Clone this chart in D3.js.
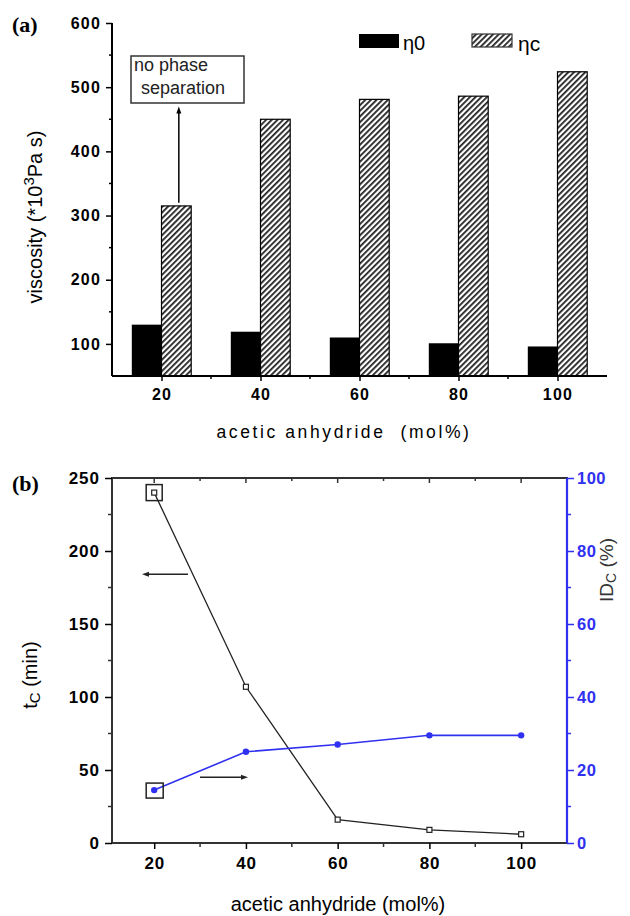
<!DOCTYPE html>
<html><head><meta charset="utf-8">
<script src="https://cdn.jsdelivr.net/npm/d3@7"></script>
<style>body{margin:0;background:#fff}svg{display:block}</style>
</head><body>
<svg id="c" width="630" height="916"></svg>
<script>
// ---- data ----
const categories = [20, 40, 60, 80, 100];
const eta0 = [130, 119, 110, 101, 96];
const etaC = [315, 450, 481, 486, 524];
const tC = [240, 107, 16, 9, 6];
const IDc = [14.5, 25, 27, 29.5, 29.5];
const yTicksA = [100, 200, 300, 400, 500, 600];
const yTicksL = [0, 50, 100, 150, 200, 250];
const yTicksR = [0, 20, 40, 60, 80, 100];

const svg = d3.select("#c");
const blue = "#3030f0";
const tickFont = "'Liberation Sans', Arial, sans-serif";

const defs = svg.append("defs");
const pat = defs.append("pattern").attr("id","hatch").attr("patternUnits","userSpaceOnUse")
  .attr("width",4).attr("height",4).attr("patternTransform","rotate(45)");
pat.append("rect").attr("width",4).attr("height",4).attr("fill","#fff");
pat.append("rect").attr("width",1.8).attr("height",4).attr("fill","#222");

// ================= Panel (a) =================
const xa = d3.scaleLinear().domain([10,110]).range([112,607]);
const ya = d3.scaleLinear().domain([50,600]).range([376,23]);
const ga = svg.append("g");
const bw = 6;

ga.selectAll("rect.e0").data(categories).join("rect")
  .attr("x", (d)=>xa(d-bw)).attr("width", xa(bw)-xa(0))
  .attr("y", (d,i)=>ya(eta0[i])).attr("height",(d,i)=>ya(50)-ya(eta0[i]))
  .attr("fill","#000");
ga.selectAll("rect.ec").data(categories).join("rect")
  .attr("x", (d)=>xa(d)).attr("width", xa(bw)-xa(0))
  .attr("y", (d,i)=>ya(etaC[i])).attr("height",(d,i)=>ya(50)-ya(etaC[i]))
  .attr("fill","url(#hatch)").attr("stroke","#000").attr("stroke-width",1.2);

// axes
const axA = d3.axisLeft(ya).tickValues(yTicksA).tickSize(6).tickPadding(5);
const gya = ga.append("g").attr("transform",`translate(${xa(10)},0)`).call(axA);
gya.select(".domain").attr("stroke-width",2).attr("d",`M0,${ya(50)}V${ya(600)}`);
gya.selectAll(".tick line").attr("stroke-width",1.5);
gya.selectAll("text").attr("font-family",tickFont).attr("font-weight","bold").attr("font-size",16).attr("letter-spacing",1.2);
ga.append("g").attr("transform",`translate(${xa(10)},0)`)
  .selectAll("line").data([150,250,350,450,550]).join("line")
  .attr("x1",-3).attr("x2",0).attr("y1",d=>ya(d)).attr("y2",d=>ya(d)).attr("stroke","#000").attr("stroke-width",1.5);

const gxa = ga.append("g").attr("transform",`translate(0,${ya(50)})`)
  .call(d3.axisBottom(xa).tickValues(categories).tickSize(5).tickPadding(8));
gxa.select(".domain").attr("stroke-width",2).attr("d",`M${xa(10)},0H${xa(110)}`);
gxa.selectAll(".tick line").attr("stroke-width",1.5);
gxa.selectAll("text").attr("font-family",tickFont).attr("font-weight","bold").attr("font-size",16).attr("letter-spacing",1.2);
ga.append("g").selectAll("line").data([30,50,70,90]).join("line")
  .attr("x1",d=>xa(d)).attr("x2",d=>xa(d)).attr("y1",ya(50)).attr("y2",ya(50)+3)
  .attr("stroke","#000").attr("stroke-width",1.5);

ga.append("text").attr("x",344).attr("y",438).attr("text-anchor","middle")
  .attr("font-family",tickFont).attr("font-size",17.5).attr("letter-spacing",2.6)
  .attr("xml:space","preserve").text("acetic anhydride  (mol%)");

const yl = ga.append("text").attr("transform","translate(42,217) rotate(-90)")
  .attr("text-anchor","middle").attr("font-family",tickFont).attr("font-size",20);
yl.append("tspan").text("viscosity (*10");
yl.append("tspan").attr("dy",-8).attr("font-size",15).text("3");
yl.append("tspan").attr("dy",8).text("Pa s)");

// annotation
ga.append("line").attr("x1",xa(23.5)).attr("x2",xa(23.5)).attr("y1",ya(320)).attr("y2",ya(463))
  .attr("stroke","#000").attr("stroke-width",1.5);
ga.append("path").attr("d",`M${xa(23.5)},${ya(470)} l-2.5,7 h5 z`).attr("fill","#000");
ga.append("rect").attr("x",131).attr("y",56).attr("width",113).attr("height",47)
  .attr("fill","#fff").attr("stroke","#333").attr("stroke-width",1.5);
ga.append("text").attr("x",134).attr("y",71).attr("font-family",tickFont).attr("font-size",18).attr("fill","#222").text("no phase");
ga.append("text").attr("x",141).attr("y",94).attr("font-family",tickFont).attr("font-size",18).attr("fill","#222").text("separation");

// legend
ga.append("rect").attr("x",359).attr("y",34).attr("width",40).attr("height",14).attr("fill","#000");
ga.append("rect").attr("x",472).attr("y",34).attr("width",40).attr("height",13).attr("fill","url(#hatch)").attr("stroke","#333").attr("stroke-width",1.2);
ga.append("text").attr("x",403).attr("y",50).attr("font-family",tickFont).attr("font-size",20).text("η0");
ga.append("text").attr("x",518).attr("y",51).attr("font-family",tickFont).attr("font-size",21).text("ηc");

// panel labels
svg.append("text").attr("x",12).attr("y",32).attr("font-family","'Liberation Serif', 'Times New Roman', serif").attr("font-weight","bold").attr("font-size",22).text("(a)");
svg.append("text").attr("x",12).attr("y",491).attr("font-family","'Liberation Serif', 'Times New Roman', serif").attr("font-weight","bold").attr("font-size",22).text("(b)");

// ================= Panel (b) =================
const xb = d3.scaleLinear().domain([10.8,110]).range([112,567]);
const yL = d3.scaleLinear().domain([0,250]).range([843,478]);
const yR = d3.scaleLinear().domain([0,100]).range([843,478]);
const gb = svg.append("g");

// frame
gb.append("rect").attr("x",xb(10.8)).attr("y",yL(250)).attr("width",xb(110)-xb(10.8)).attr("height",yL(0)-yL(250))
  .attr("fill","none").attr("stroke","#333").attr("stroke-width",2);

const gyl = gb.append("g").attr("transform",`translate(${xb(10.8)},0)`)
  .call(d3.axisLeft(yL).tickValues(yTicksL).tickSize(7).tickPadding(5));
gyl.select(".domain").remove();
gyl.selectAll(".tick line").attr("stroke-width",1.5);
gyl.selectAll("text").attr("font-family",tickFont).attr("font-weight","bold").attr("font-size",17).attr("letter-spacing",1);
gb.append("g").selectAll("line").data([25,75,125,175,225]).join("line")
  .attr("x1",xb(10.8)-4).attr("x2",xb(10.8)).attr("y1",d=>yL(d)).attr("y2",d=>yL(d)).attr("stroke","#333").attr("stroke-width",1.5);

const gyr = gb.append("g").attr("transform",`translate(${xb(110)},0)`)
  .call(d3.axisRight(yR).tickValues(yTicksR).tickSize(7).tickPadding(3));
gyr.select(".domain").attr("stroke",blue).attr("stroke-width",2.2).attr("d",`M0,${yR(0)}V${yR(100)}`);
gyr.selectAll(".tick line").attr("stroke",blue).attr("stroke-width",1.5);
gyr.selectAll("text").attr("fill",blue).attr("font-family",tickFont).attr("font-weight","bold").attr("font-size",16.5).attr("letter-spacing",0.5);
gb.append("g").selectAll("line").data([10,30,50,70,90]).join("line")
  .attr("x1",xb(110)).attr("x2",xb(110)+4).attr("y1",d=>yR(d)).attr("y2",d=>yR(d)).attr("stroke",blue).attr("stroke-width",1.5);

const gxb = gb.append("g").attr("transform",`translate(0,${yL(0)})`)
  .call(d3.axisBottom(xb).tickValues(categories).tickSize(6).tickPadding(8));
gxb.select(".domain").remove();
gxb.selectAll(".tick line").attr("stroke-width",1.5);
gxb.selectAll("text").attr("font-family",tickFont).attr("font-weight","bold").attr("font-size",17).attr("letter-spacing",0.8);
gb.append("g").selectAll("line").data([30,50,70,90]).join("line")
  .attr("x1",d=>xb(d)).attr("x2",d=>xb(d)).attr("y1",yL(0)).attr("y2",yL(0)+4).attr("stroke","#333").attr("stroke-width",1.5);
// top ticks (inward)
gb.append("g").selectAll("line").data([20,30,40,50,60,70,80,90,100]).join("line")
  .attr("x1",d=>xb(d)).attr("x2",d=>xb(d)).attr("y1",yL(250)).attr("y2",d=>yL(250)+(d%20===0?5:3)).attr("stroke","#333").attr("stroke-width",1.5);

// tC line
gb.append("path").datum(categories).attr("fill","none").attr("stroke","#222").attr("stroke-width",1.3)
  .attr("d", d3.line().x(d=>xb(d)).y((d,i)=>yL(tC[i])));
gb.selectAll("rect.tc").data(categories).join("rect")
  .attr("x",d=>xb(d)-2.5).attr("y",(d,i)=>yL(tC[i])-2.5).attr("width",5).attr("height",5)
  .attr("fill","#fff").attr("stroke","#222").attr("stroke-width",1.2);
// IDc line
gb.append("path").datum(categories).attr("fill","none").attr("stroke",blue).attr("stroke-width",1.6)
  .attr("d", d3.line().x(d=>xb(d)).y((d,i)=>yR(IDc[i])));
gb.selectAll("circle.id").data(categories).join("circle")
  .attr("cx",d=>xb(d)).attr("cy",(d,i)=>yR(IDc[i])).attr("r",3.2).attr("fill",blue);

// highlight boxes at first point
gb.append("rect").attr("x",xb(20)-8).attr("y",yL(tC[0])-8).attr("width",16).attr("height",16)
  .attr("fill","none").attr("stroke","#222").attr("stroke-width",1.5);
gb.append("rect").attr("x",xb(20)-8).attr("y",yR(IDc[0])-7).attr("width",17).attr("height",15)
  .attr("fill","none").attr("stroke","#222").attr("stroke-width",1.5);

// arrows
gb.append("line").attr("x1",188).attr("x2",146).attr("y1",yL(184)).attr("y2",yL(184)).attr("stroke","#222").attr("stroke-width",1.5);
gb.append("path").attr("d",`M142,${yL(184)} l7,-2.5 v5 z`).attr("fill","#222");
gb.append("line").attr("x1",200).attr("x2",244).attr("y1",yR(18)).attr("y2",yR(18)).attr("stroke","#222").attr("stroke-width",1.5);
gb.append("path").attr("d",`M248,${yR(18)} l-7,-2.5 v5 z`).attr("fill","#222");

// labels
const tl = gb.append("text").attr("transform","translate(37,675) rotate(-90)").attr("text-anchor","middle")
  .attr("font-family",tickFont).attr("font-size",20);
tl.append("tspan").text("t");
tl.append("tspan").attr("font-size",15).attr("dy",3).text("C");
tl.append("tspan").attr("dy",-3).text(" (min)");
const rl = gb.append("text").attr("transform","translate(613,570) rotate(-90)").attr("text-anchor","middle")
  .attr("font-family",tickFont).attr("font-size",19).attr("fill","#333");
rl.append("tspan").text("ID");
rl.append("tspan").attr("font-size",14).attr("dy",3).text("C");
rl.append("tspan").attr("dy",-3).text(" (%)");

gb.append("text").attr("x",338).attr("y",911).attr("text-anchor","middle")
  .attr("font-family",tickFont).attr("font-size",20).text("acetic anhydride (mol%)");
</script>
</body></html>
